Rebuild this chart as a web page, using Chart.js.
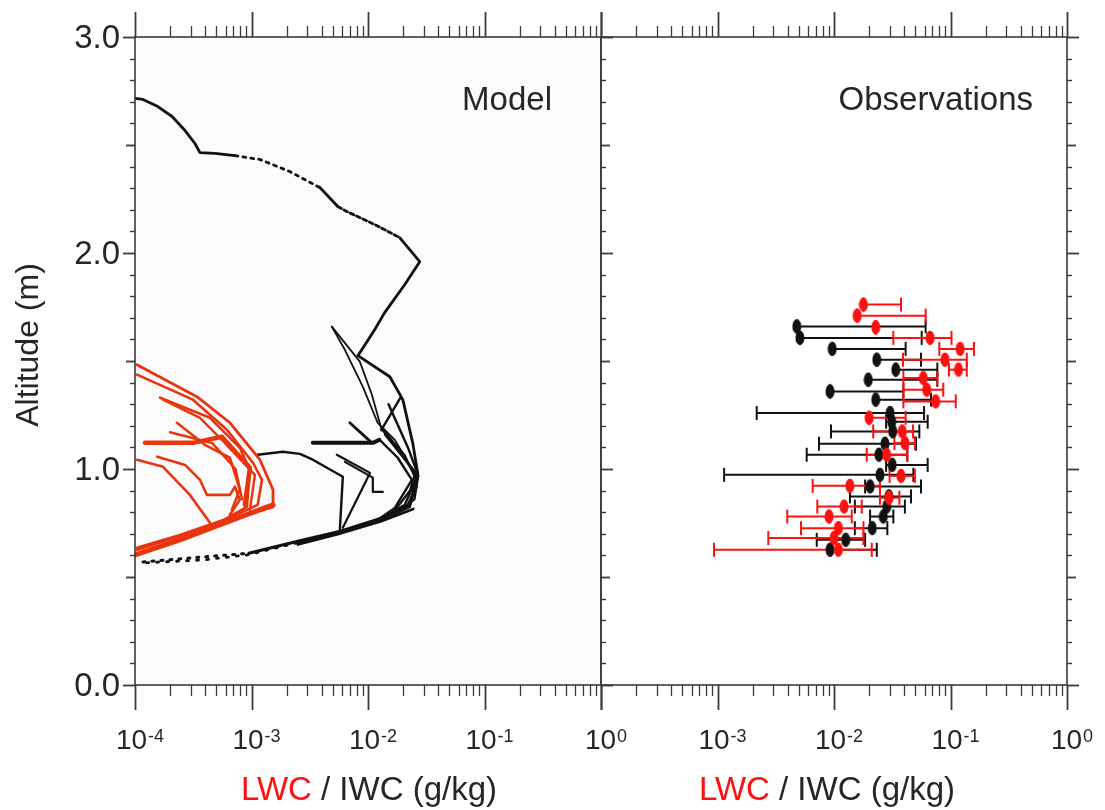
<!DOCTYPE html>
<html>
<head>
<meta charset="utf-8">
<script src="https://cdn.jsdelivr.net/npm/chart.js@4.4.1/dist/chart.umd.min.js"></script>
<style>
  html, body { margin: 0; padding: 0; background: #fff; }
  #wrap { position: relative; width: 1105px; height: 810px; }
  #wrap canvas { position: absolute; left: 0; top: 0; }
</style>
</head>
<body>
<div id="wrap">
  <canvas id="model" width="1105" height="810"></canvas>
  <canvas id="obs" width="1105" height="810"></canvas>
</div>
<script>
// ---------- axis ticks and labels ----------
const decades = [-4, -3, -2, -1, 0];
const minorSteps = [2, 3, 4, 5, 6, 7, 8, 9];
const modelExpLabels = ['-4', '-3', '-2', '-1', '0'];
const modelExpValues = [1e-4, 1e-3, 1e-2, 1e-1, 1];
const obsExpLabels = ['-3', '-2', '-1', '0'];
const obsExpValues = [1e-3, 1e-2, 1e-1, 1];
const altMajorValues = [0, 1, 2, 3];
const altMajorLabels = ['0.0', '1.0', '2.0', '3.0'];

// ---------- model profiles: [water content (g/kg), altitude (m)] ----------
const iceEnvelope = [
  [1.0e-4, 2.716], [1.17e-4, 2.711], [1.57e-4, 2.678], [2.08e-4, 2.632], [2.69e-4, 2.567],
  [3.27e-4, 2.507], [3.61e-4, 2.465], [4.85e-4, 2.461], [7.21e-4, 2.451], [1.18e-3, 2.433],
  [2.13e-3, 2.377], [3.86e-3, 2.303], [5.51e-3, 2.215], [6.58e-3, 2.192], [1.14e-2, 2.132],
  [1.87e-2, 2.071], [2.78e-2, 1.960], [2.07e-2, 1.854], [1.39e-2, 1.724], [1.14e-2, 1.645],
  [8.85e-3, 1.552], [8.2e-3, 1.525], [1.54e-2, 1.427], [1.99e-2, 1.321], [2.42e-2, 1.121],
  [2.67e-2, 0.982], [2.28e-2, 0.825], [1.34e-2, 0.765], [5.40e-3, 0.704], [2.45e-3, 0.658],
  [9.14e-4, 0.602], [3.83e-4, 0.579], [1.17e-4, 0.565]
];
const iceSpikeA = [[4.89e-3, 1.659], [6.33e-3, 1.552], [9.02e-3, 1.381], [1.21e-2, 1.214], [1.70e-2, 1.135], [2.42e-2, 0.996]];
const iceSpikeB = [[4.89e-3, 1.659], [8.51e-3, 1.497], [1.08e-2, 1.344], [1.31e-2, 1.182], [2.07e-2, 1.066], [2.57e-2, 0.950]];
const iceShelf = [[3.36e-3, 1.121], [1.1e-2, 1.121], [1.25e-2, 1.135]];
const iceShelfTip = [[6.98e-3, 1.214], [1.08e-2, 1.121]];
const iceChevronA = [[1.13e-3, 1.066], [1.86e-3, 1.080], [2.60e-3, 1.070], [3.36e-3, 1.043], [6.08e-3, 0.964], [5.73e-3, 0.718]];
const iceChevronB = [[5.40e-3, 1.066], [1.04e-2, 0.982], [6.08e-3, 0.728]];
const iceChevronC = [[6.33e-3, 1.033], [1.10e-2, 0.960], [1.10e-2, 0.894], [1.34e-2, 0.894]];
const iceCoreA = [[1.34e-2, 1.182], [1.87e-2, 1.089], [2.62e-2, 0.959], [2.07e-2, 0.834], [1.34e-2, 0.774]];
const iceCoreB = [[1.26e-2, 1.135], [1.80e-2, 1.052], [2.38e-2, 0.950], [1.70e-2, 0.820], [1.14e-2, 0.755]];
const iceCoreC = [[1.5e-2, 1.300], [2.2e-2, 1.100], [2.7e-2, 0.970], [2.5e-2, 0.860], [1.8e-2, 0.800]];
const iceCoreD = [[1.4e-2, 1.160], [2.1e-2, 1.040], [2.55e-2, 0.985], [2.3e-2, 0.900], [1.6e-2, 0.790]];
const iceLink = [[1.9e-2, 1.330], [1.3e-2, 1.180]];
const iceBaseA = [[1.17e-4, 0.570], [9.5e-4, 0.610], [2.6e-3, 0.668], [5.8e-3, 0.712], [1.3e-2, 0.772], [2.2e-2, 0.830], [2.6e-2, 0.920]];
const iceBaseB = [[2.5e-3, 0.650], [5.5e-3, 0.698], [1.3e-2, 0.758], [2.45e-2, 0.815]];

const liqOuter = [[1.04e-4, 1.483], [1.81e-4, 1.413], [3.40e-4, 1.335], [6.53e-4, 1.214], [1.18e-3, 1.043], [1.53e-3, 0.904], [1.53e-3, 0.825], [7.94e-4, 0.778], [4.40e-4, 0.732], [1.04e-4, 0.626]];
const liqSecond = [[1.04e-4, 1.437], [3.14e-4, 1.321], [6.15e-4, 1.182], [1.03e-3, 1.029], [1.23e-3, 0.950], [1.13e-3, 0.834], [6.53e-4, 0.774], [2.43e-4, 0.695], [1.04e-4, 0.635]];
const liqThird = [[1.64e-4, 1.330], [4.40e-4, 1.237], [7.94e-4, 1.098], [9.69e-4, 0.996], [9.14e-4, 0.825], [4.85e-4, 0.741]];
const liqFourth = [[1.74e-4, 1.321], [3.61e-4, 1.237], [5.57e-4, 1.135], [1.07e-3, 0.973], [9.69e-4, 0.811]];
const liqShelf = [[1.22e-4, 1.121], [3.14e-4, 1.121], [5.57e-4, 1.149], [9.69e-4, 1.006], [8.77e-4, 0.834]];
const liqBranchA = [[2.29e-4, 1.214], [3.98e-4, 1.112], [6.53e-4, 1.052], [7.94e-4, 0.904], [6.79e-4, 0.811]];
const liqBranchB = [[1.55e-4, 1.057], [2.69e-4, 1.019], [3.61e-4, 0.950], [4.14e-4, 0.880], [6.53e-4, 0.880], [7.21e-4, 0.918], [7.94e-4, 0.857], [6.53e-4, 0.788]];
const liqBranchC = [[1.04e-4, 1.043], [1.74e-4, 1.010], [2.96e-4, 0.880], [4.40e-4, 0.751]];
const liqBranchD = [[2.0e-4, 1.170], [4.6e-4, 1.120], [7.3e-4, 1.000], [8.3e-4, 0.860]];
const liqBase = [[1.0e-4, 0.602], [2.43e-4, 0.672], [6.53e-4, 0.760], [1.30e-3, 0.820], [1.53e-3, 0.834]];

// ---------- observations ----------
const iwcAlt = [1.660, 1.607, 1.556, 1.506, 1.460, 1.413, 1.359, 1.321, 1.259, 1.219, 1.174, 1.117, 1.066, 1.019, 0.973, 0.919, 0.873, 0.826, 0.780, 0.726, 0.672, 0.626];
const iwcMean = [0.00479, 0.00510, 0.00966, 0.0233, 0.0339, 0.0197, 0.00925, 0.0228, 0.0303, 0.0313, 0.0319, 0.0274, 0.0243, 0.0316, 0.0248, 0.0204, 0.0296, 0.0283, 0.0265, 0.0213, 0.0126, 0.00925];
const iwcLow = [0.00479, 0.00510, 0.00966, 0.0233, 0.0339, 0.0197, 0.00925, 0.0228, 0.00217, 0.0280, 0.00942, 0.00743, 0.00583, 0.0280, 0.00114, 0.0185, 0.0137, 0.0151, 0.0204, 0.0151, 0.00711, 0.00925];
const iwcHigh = [0.0612, 0.0566, 0.0412, 0.0558, 0.0771, 0.0771, 0.0394, 0.0681, 0.0593, 0.0637, 0.0540, 0.0506, 0.0426, 0.0637, 0.0480, 0.0558, 0.0458, 0.0406, 0.0323, 0.0287, 0.0185, 0.0233];

const lwcAlt = [1.761, 1.710, 1.656, 1.607, 1.556, 1.506, 1.460, 1.421, 1.367, 1.313, 1.237, 1.174, 1.120, 1.066, 0.968, 0.922, 0.867, 0.826, 0.780, 0.726, 0.680, 0.626];
const lwcMean = [0.0179, 0.0158, 0.0228, 0.0667, 0.121, 0.0897, 0.117, 0.0584, 0.0625, 0.0746, 0.0200, 0.0385, 0.0406, 0.0283, 0.0376, 0.0137, 0.0296, 0.0122, 0.00906, 0.0109, 0.0100, 0.0109];
const lwcLow = [0.0179, 0.0158, 0.0228, 0.0323, 0.0802, 0.0391, 0.0970, 0.0394, 0.0394, 0.0394, 0.0200, 0.0217, 0.0330, 0.0191, 0.0300, 0.00656, 0.0248, 0.00719, 0.00397, 0.00521, 0.00273, 0.000933];
const lwcHigh = [0.0376, 0.0612, 0.0228, 0.102, 0.159, 0.138, 0.138, 0.0771, 0.0867, 0.111, 0.0412, 0.0476, 0.0495, 0.0426, 0.0495, 0.0248, 0.0364, 0.0173, 0.0142, 0.0179, 0.0179, 0.0211];

// ---------- styling ----------
const FONT = '"Liberation Sans", Arial, Helvetica, sans-serif';
const INK = '#262626';
const FRAME = '#3a3a3a';
const ICE = '#111111';
const LIQ_MODEL = '#e8340f';
const LIQ_OBS = '#ff1010';

const toXY = pts => pts.map(p => ({ x: p[0], y: p[1] }));

function profile(label, pts, color, width, dashSpans) {
  return {
    label, data: toXY(pts), showLine: true, borderColor: color, backgroundColor: color,
    borderWidth: width, pointRadius: 0, tension: 0, borderCapStyle: 'round', borderJoinStyle: 'round',
    segment: dashSpans ? {
      borderDash: ctx => {
        for (const s of dashSpans) {
          if (ctx.p0DataIndex >= s[0] && ctx.p0DataIndex < s[1]) return s[2];
        }
        return undefined;
      }
    } : undefined
  };
}

function ellipseMark(color) {
  const c = document.createElement('canvas');
  c.width = 10; c.height = 16;
  const g = c.getContext('2d');
  g.fillStyle = color;
  g.beginPath();
  g.ellipse(5, 8, 4.5, 7.2, 0, 0, Math.PI * 2);
  g.fill();
  return c;
}

function seg(ctx, x1, y1, x2, y2) {
  ctx.beginPath(); ctx.moveTo(x1, y1); ctx.lineTo(x2, y2); ctx.stroke();
}

function drawFrameAndLogTicks(chart) {
  const { ctx, chartArea: a } = chart;
  const xs = chart.scales.x;
  ctx.save();
  ctx.strokeStyle = FRAME;
  ctx.lineWidth = 1.6;
  ctx.strokeRect(a.left, a.top, a.right - a.left, a.bottom - a.top);
  decades.forEach(e => {
    const steps = e < 0 ? [1].concat(minorSteps) : [1];
    steps.forEach(k => {
      const px = Math.round(xs.getPixelForValue(k * Math.pow(10, e))) + 0.5;
      const major = k === 1;
      ctx.lineWidth = major ? 1.8 : 1.3;
      const len = major ? 25 : 11;
      seg(ctx, px, a.bottom, px, a.bottom + len);
      seg(ctx, px, a.top, px, a.top - len);
    });
  });
  ctx.restore();
}

function drawAltTicks(chart, x, dir) {
  const { ctx } = chart;
  const ys = chart.scales.y;
  ctx.save();
  ctx.strokeStyle = FRAME;
  for (let i = 0; i <= 30; i++) {
    const py = Math.round(ys.getPixelForValue(i / 10)) + 0.5;
    const len = i % 10 === 0 ? 12 : (i % 5 === 0 ? 9 : 5);
    ctx.lineWidth = i % 5 === 0 ? 1.8 : 1.4;
    seg(ctx, x, py, x + dir * len, py);
  }
  ctx.restore();
}

function drawPowerLabels(chart, values, exps) {
  const { ctx } = chart;
  const xs = chart.scales.x;
  const baseFont = '28px ' + FONT;
  const supFont = '18px ' + FONT;
  ctx.save();
  ctx.fillStyle = INK;
  ctx.textAlign = 'left';
  ctx.textBaseline = 'alphabetic';
  values.forEach((v, i) => {
    const px = xs.getPixelForValue(v);
    ctx.font = baseFont;
    const wb = ctx.measureText('10').width;
    ctx.font = supFont;
    const we = ctx.measureText(exps[i]).width;
    const x0 = px - (wb + 1 + we) / 2 + 5;
    ctx.font = baseFont;
    ctx.fillText('10', x0, 749);
    ctx.font = supFont;
    ctx.fillText(exps[i], x0 + wb + 1, 742);
  });
  ctx.restore();
}

function drawAxisTitle(chart, cx) {
  const { ctx } = chart;
  ctx.save();
  ctx.font = '33px ' + FONT;
  ctx.textBaseline = 'alphabetic';
  ctx.textAlign = 'left';
  const p1 = 'LWC', p2 = ' / IWC (g/kg)';
  const w1 = ctx.measureText(p1).width, w2 = ctx.measureText(p2).width;
  const x0 = cx - (w1 + w2) / 2;
  ctx.fillStyle = LIQ_OBS;
  ctx.fillText(p1, x0, 800);
  ctx.fillStyle = INK;
  ctx.fillText(p2, x0 + w1, 800);
  ctx.restore();
}

function drawCaption(chart, text, rightInset) {
  const { ctx, chartArea: a } = chart;
  ctx.save();
  ctx.font = '33px ' + FONT;
  ctx.fillStyle = INK;
  ctx.textAlign = 'right';
  ctx.textBaseline = 'alphabetic';
  ctx.fillText(text, a.right - rightInset, 110);
  ctx.restore();
}

const modelPanel = {
  id: 'modelPanel',
  beforeDatasetsDraw(chart) {
    const { ctx, chartArea: a } = chart;
    ctx.save();
    ctx.fillStyle = '#fbfbfb';
    ctx.fillRect(a.left, a.top, a.right - a.left, a.bottom - a.top);
    ctx.restore();
  },
  afterDraw(chart) {
    const { ctx, chartArea: a } = chart;
    const ys = chart.scales.y;
    drawFrameAndLogTicks(chart);
    drawAltTicks(chart, a.left, -1);
    ctx.save();
    ctx.font = '33px ' + FONT;
    ctx.fillStyle = INK;
    ctx.textAlign = 'right';
    ctx.textBaseline = 'middle';
    altMajorValues.forEach((v, i) => ctx.fillText(altMajorLabels[i], a.left - 15, ys.getPixelForValue(v) + 2));
    ctx.font = '32px ' + FONT;
    ctx.translate(29, 345);
    ctx.rotate(-Math.PI / 2);
    ctx.textAlign = 'center';
    ctx.fillText('Altitude (m)', 0, 0);
    ctx.restore();
    drawPowerLabels(chart, modelExpValues, modelExpLabels);
    drawAxisTitle(chart, chart.scales.x.getPixelForValue(1e-2) + 1);
    drawCaption(chart, 'Model', 49);
  }
};

const obsPanel = {
  id: 'obsPanel',
  beforeDatasetsDraw(chart) {
    const { ctx } = chart;
    const xs = chart.scales.x, ys = chart.scales.y;
    ctx.save();
    ctx.lineWidth = 2;
    [[iwcAlt, iwcLow, iwcHigh, ICE], [lwcAlt, lwcLow, lwcHigh, LIQ_OBS]].forEach(([alt, lo, hi, col]) => {
      ctx.strokeStyle = col;
      alt.forEach((h, i) => {
        const py = ys.getPixelForValue(h);
        const x1 = xs.getPixelForValue(lo[i]);
        const x2 = xs.getPixelForValue(hi[i]);
        seg(ctx, x1, py, x2, py);
        seg(ctx, x1, py - 7, x1, py + 7);
        seg(ctx, x2, py - 7, x2, py + 7);
      });
    });
    ctx.restore();
  },
  afterDraw(chart) {
    const { chartArea: a } = chart;
    drawFrameAndLogTicks(chart);
    drawAltTicks(chart, a.left, 1);
    drawAltTicks(chart, a.right, 1);
    drawPowerLabels(chart, obsExpValues, obsExpLabels);
    drawAxisTitle(chart, chart.scales.x.getPixelForValue(1e-2) - 7);
    drawCaption(chart, 'Observations', 34);
  }
};

function scalesCfg() {
  return {
    x: { type: 'logarithmic', min: 1e-4, max: 1, display: false },
    y: { type: 'linear', min: 0, max: 3, display: false }
  };
}

const baseOptions = (padding) => ({
  responsive: false,
  animation: false,
  events: [],
  layout: { padding },
  scales: scalesCfg(),
  plugins: { legend: { display: false }, tooltip: { enabled: false } }
});

new Chart(document.getElementById('model'), {
  type: 'scatter',
  data: {
    datasets: [
      profile('LWC', liqOuter, LIQ_MODEL, 2.8),
      profile('LWC', liqSecond, LIQ_MODEL, 2.6),
      profile('LWC', liqThird, LIQ_MODEL, 2.6),
      profile('LWC', liqFourth, LIQ_MODEL, 2.4),
      profile('LWC', liqShelf, LIQ_MODEL, 4.5),
      profile('LWC', liqBranchA, LIQ_MODEL, 2.6),
      profile('LWC', liqBranchB, LIQ_MODEL, 2.6),
      profile('LWC', liqBranchC, LIQ_MODEL, 2.6),
      profile('LWC', liqBranchD, LIQ_MODEL, 2.4),
      profile('LWC', liqBase, LIQ_MODEL, 5),
      profile('IWC', iceEnvelope, ICE, 2.8, [[8, 11, [3, 5]], [12, 15, [4, 3]], [29, 32, [2, 8]]]),
      profile('IWC', iceSpikeA, ICE, 1.8),
      profile('IWC', iceSpikeB, ICE, 1.8),
      profile('IWC', iceShelf, ICE, 4),
      profile('IWC', iceShelfTip, ICE, 2.8),
      profile('IWC', iceChevronA, ICE, 2.4),
      profile('IWC', iceChevronB, ICE, 2.2),
      profile('IWC', iceChevronC, ICE, 2.2),
      profile('IWC', iceCoreA, ICE, 2.4),
      profile('IWC', iceCoreB, ICE, 2.4),
      profile('IWC', iceCoreC, ICE, 2.4),
      profile('IWC', iceCoreD, ICE, 2.4),
      profile('IWC', iceLink, ICE, 2.4),
      profile('IWC', iceBaseA, ICE, 3, [[0, 1, [2, 7]]]),
      profile('IWC', iceBaseB, ICE, 2.6)
    ]
  },
  options: baseOptions({ left: 135, right: 1105 - 601, top: 37, bottom: 810 - 685 }),
  plugins: [modelPanel]
});

new Chart(document.getElementById('obs'), {
  type: 'scatter',
  data: {
    datasets: [
      {
        label: 'LWC', data: lwcMean.map((v, i) => ({ x: v, y: lwcAlt[i] })),
        pointStyle: ellipseMark(LIQ_OBS), pointRadius: 5, showLine: false
      },
      {
        label: 'IWC', data: iwcMean.map((v, i) => ({ x: v, y: iwcAlt[i] })),
        pointStyle: ellipseMark(ICE), pointRadius: 5, showLine: false
      }
    ]
  },
  options: baseOptions({ left: 601, right: 1105 - 1067, top: 37, bottom: 810 - 685 }),
  plugins: [obsPanel]
});
</script>
</body>
</html>
